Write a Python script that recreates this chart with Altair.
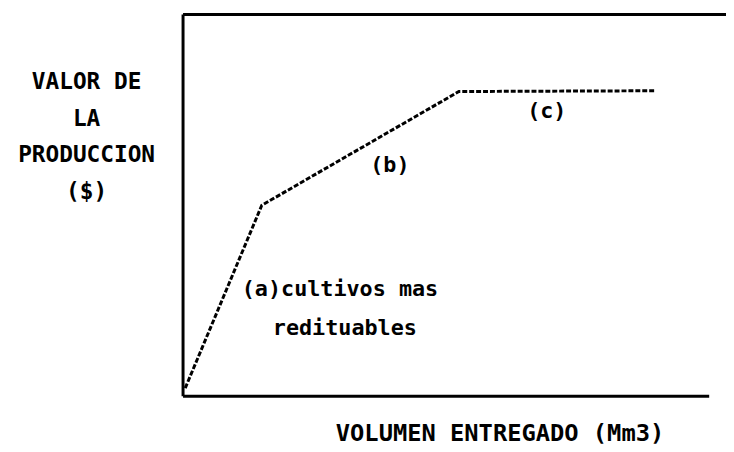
import altair as alt
import pandas as pd

# Curve vertices (relative volume, relative production value)
volumen = [0.4, 14.5, 50.8, 87.1]
valor = [2.1, 50.0, 79.8, 80.0]

# Annotations
label_text = ["(a)cultivos mas", "redituables", "(b)", "(c)"]
label_x = [28.9, 29.8, 38.1, 67.0]
label_y = [28.0, 17.9, 60.6, 74.6]

y_title = ["VALOR DE", "LA", "PRODUCCION", "($)"]
x_title = "VOLUMEN ENTREGADO (Mm3)"

W, H = 549, 386
FONT = "DejaVu Sans Mono"

curve = pd.DataFrame({"x": volumen, "y": valor})
labels = pd.DataFrame({"x": label_x, "y": label_y, "t": label_text})

xs = alt.Scale(domain=[0, 100], nice=False, zero=False)
ys = alt.Scale(domain=[0, 100], nice=False, zero=False)

line = alt.Chart(curve).mark_line(
    color="black", strokeWidth=3, strokeDash=[5, 2]
).encode(
    x=alt.X("x:Q", scale=xs, axis=alt.Axis(
        domain=False, ticks=False, labels=False, grid=False,
        title=x_title, titleFont=FONT, titleFontSize=24, titleFontWeight="bold",
        titleColor="black", titleX=320, titleY=38, titleBaseline="middle",
        titleAlign="center")),
    y=alt.Y("y:Q", scale=ys, axis=alt.Axis(
        domain=False, ticks=False, labels=False, grid=False,
        title=y_title, titleFont=FONT, titleFontSize=23, titleFontWeight="bold",
        titleColor="black", titleAngle=0, titleX=-98, titleY=57,
        titleBaseline="top", titleAlign="center", titleLineHeight=37)),
    order=alt.Order("x:Q"),
)

text = alt.Chart(labels).mark_text(
    font=FONT, fontSize=22, fontWeight="bold", color="black",
    align="center", baseline="middle"
).encode(x=alt.X("x:Q", scale=xs), y=alt.Y("y:Q", scale=ys), text="t:N")

frame_df = pd.DataFrame({"k": [0]})
top_rule = alt.Chart(frame_df).mark_rule(color="black", strokeWidth=3).encode(
    y=alt.value(0), x=alt.value(0), x2=alt.value(W))
bottom_rule = alt.Chart(frame_df).mark_rule(color="black", strokeWidth=3).encode(
    y=alt.value(H), x=alt.value(0), x2=alt.value(532))
left_rule = alt.Chart(frame_df).mark_rule(color="black", strokeWidth=3).encode(
    x=alt.value(0), y=alt.value(0), y2=alt.value(H))

chart = alt.layer(line, text, top_rule, bottom_rule, left_rule).properties(
    width=W, height=H,
    autosize=alt.AutoSizeParams(type="none"),
    padding={"left": 177, "top": 4, "right": 0, "bottom": 54},
    background="white",
).configure_view(stroke=None)

chart.save("out.html", embed_options={"renderer": "svg", "actions": False})
